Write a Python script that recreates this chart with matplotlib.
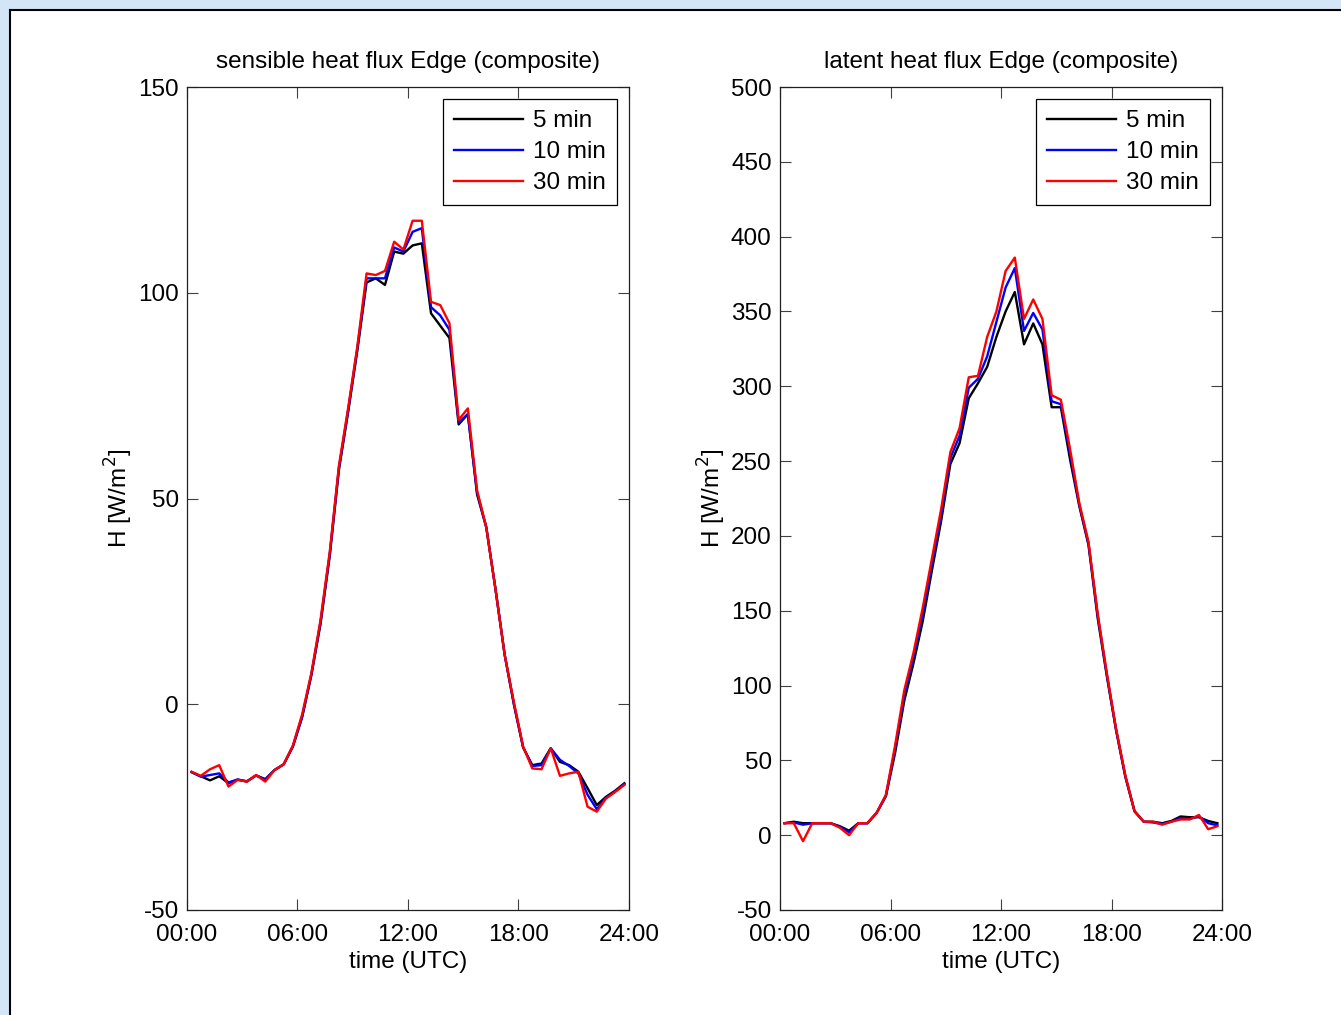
import numpy as np
import matplotlib
matplotlib.use("Agg")
import matplotlib.pyplot as plt
from matplotlib.patches import Rectangle
from matplotlib.lines import Line2D

plt.rcParams['font.family'] = ['Liberation Sans', 'DejaVu Sans']
plt.rcParams['axes.unicode_minus'] = False

# half-hourly composite, centre of each 30 min block (hours UTC)
hours = np.arange(0.25, 24, 0.5)

# sensible heat flux [W/m2]
sh_5min = [-16.5, -17.5, -18.5, -17.5, -19.2, -18.3, -18.8, -17.3, -18.2, -16.0,
           -14.6, -10.3, -3.2, 7.0, 19.5, 36.0, 57.0, 71.0, 86.0, 102.5,
           103.5, 101.9, 110.0, 109.5, 111.5, 112.0, 95.0, 92.0, 89.0, 68.0,
           70.5, 51.0, 43.0, 28.0, 12.0, 0.0, -10.5, -14.8, -14.4, -10.7,
           -14.0, -14.8, -16.4, -20.4, -24.5, -22.5, -21.0, -19.2]
sh_10min = [-16.5, -17.6, -17.2, -16.8, -19.0, -18.3, -18.7, -17.3, -18.3, -16.0,
            -14.6, -10.2, -3.0, 7.2, 20.0, 36.5, 57.5, 71.5, 86.5, 103.5,
            103.5, 103.5, 111.0, 110.0, 114.8, 115.7, 96.5, 94.5, 91.0, 68.5,
            70.5, 51.5, 43.0, 28.0, 12.0, 0.0, -10.4, -15.0, -14.8, -10.7,
            -13.5, -15.0, -16.8, -22.0, -25.5, -22.8, -21.2, -19.4]
sh_30min = [-16.4, -17.4, -15.8, -14.8, -20.0, -18.4, -18.8, -17.2, -18.8, -16.0,
            -14.6, -10.0, -2.5, 7.5, 20.5, 37.0, 58.0, 72.0, 87.0, 104.7,
            104.3, 105.3, 112.4, 110.5, 117.5, 117.5, 97.8, 97.0, 92.6, 69.1,
            71.9, 52.0, 43.0, 28.0, 12.0, 0.5, -10.3, -15.6, -15.8, -10.7,
            -17.4, -16.8, -16.4, -24.9, -26.1, -22.9, -21.3, -19.6]

# latent heat flux [W/m2]
lh_5min = [8, 9, 8, 8, 8, 8, 6, 3, 8, 8,
           15, 26, 55, 90, 115, 143, 177, 210, 248, 262,
           292, 302, 313, 333, 350, 363, 328, 342, 328, 286,
           286, 251, 220, 194, 145, 106, 70, 39, 16, 9,
           9, 8, 9.5, 12.5, 12, 12, 9.5, 8]
lh_10min = [8, 8.5, 7, 8, 8, 8, 5.5, 2, 8, 8,
            15, 26.5, 58, 94, 119, 148, 181, 214, 252, 267,
            299, 305, 320, 343, 366, 379, 337, 349, 338, 290,
            288, 255, 221, 195, 147, 107, 70.5, 39.5, 16, 9,
            8.5, 7.5, 9, 11.5, 11, 12.5, 8, 6.6]
lh_30min = [8, 8, -4, 8, 8, 8, 5, 0, 8, 8,
            15, 27, 60, 97, 122, 152, 185, 218, 256, 272,
            306, 307, 333, 350, 377, 386, 345, 358, 345, 294,
            291, 258, 222, 196, 148, 108, 71, 40, 16, 9,
            9, 7, 9, 10.5, 10.5, 13.5, 4, 6]

labels = ['5 min', '10 min', '30 min']
colors = ['black', 'blue', 'red']
xtick_labels = ['00:00', '06:00', '12:00', '18:00', '24:00']

W, H = 1341, 1015
FS = 17.5
fig = plt.figure(figsize=(W / 100, H / 100), dpi=100, facecolor='#d3e5f7')

# window area of the screenshot
fig.add_artist(Rectangle((10 / W, 0), 1, (H - 10) / H, transform=fig.transFigure,
                         facecolor='white', edgecolor='none', zorder=-5))
fig.add_artist(Line2D([9.5 / W, 9.5 / W], [0, (H - 9.5) / H], transform=fig.transFigure,
                      color='black', lw=1.5, zorder=-4))
fig.add_artist(Line2D([9.5 / W, 1], [(H - 9.5) / H, (H - 9.5) / H], transform=fig.transFigure,
                      color='black', lw=1.5, zorder=-4))


def panel(rect, series, title, ylim, yticks):
    ax = fig.add_axes(rect)
    for vals, c, lab in zip(series, colors, labels):
        ax.plot(hours, vals, color=c, lw=1.7, label=lab)
    ax.set_xlim(0, 24)
    ax.set_ylim(*ylim)
    ax.set_xticks([0, 6, 12, 18, 24])
    ax.set_xticklabels(xtick_labels)
    ax.set_yticks(yticks)
    ax.tick_params(direction='in', length=8, width=0.8, color='#404040',
                   top=True, right=True, labelsize=FS)
    ax.tick_params(axis='x', pad=10)
    ax.tick_params(axis='y', pad=6)
    for s in ax.spines.values():
        s.set_linewidth(0.9)
        s.set_color('#202020')
    ax.set_title(title, fontsize=FS, pad=14)
    ax.set_xlabel('time (UTC)', fontsize=FS, labelpad=4)
    ax.set_ylabel('H [W/m$^2$]', fontsize=FS, labelpad=2)
    leg = ax.legend(loc='upper right', fontsize=FS, fancybox=False, framealpha=1,
                    edgecolor='black', handlelength=2.85, handletextpad=0.42,
                    labelspacing=0.37, borderpad=0.45, borderaxespad=0.5)
    leg.get_frame().set_linewidth(0.9)
    return ax


bottom = (H - 910) / H
height = 823 / H
width = 442 / W

panel([187 / W, bottom, width, height], [sh_5min, sh_10min, sh_30min],
      'sensible heat flux Edge (composite)', (-50, 150), np.arange(-50, 151, 50))
panel([780 / W, bottom, width, height], [lh_5min, lh_10min, lh_30min],
      'latent heat flux Edge (composite)', (-50, 500), np.arange(-50, 501, 50))

fig.savefig('out.png', dpi=100, facecolor=fig.get_facecolor())
